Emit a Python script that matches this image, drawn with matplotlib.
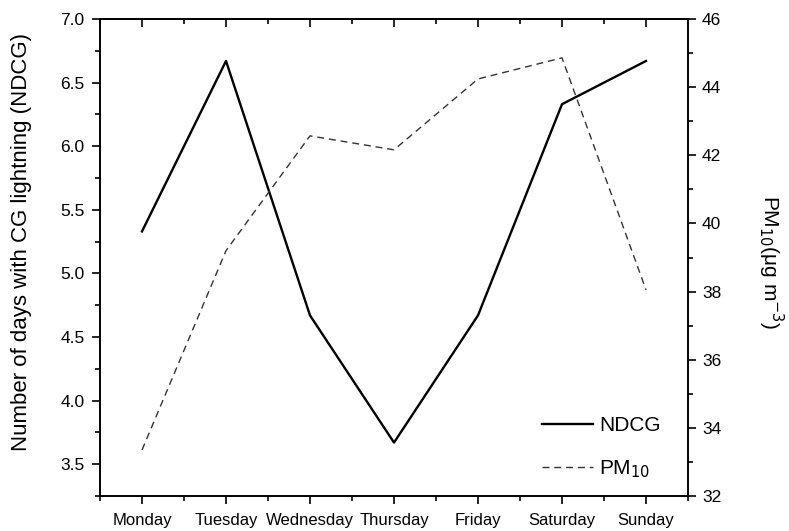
import matplotlib
matplotlib.use("Agg")
import matplotlib.pyplot as plt
from matplotlib.ticker import MultipleLocator

days = ["Monday", "Tuesday", "Wednesday", "Thursday", "Friday", "Saturday", "Sunday"]
ndcg = [5.33, 6.67, 4.67, 3.67, 4.67, 6.33, 6.67]
pm10 = [33.35, 39.2, 42.57, 42.16, 44.24, 44.86, 38.05]
left_ticks = [3.5, 4.0, 4.5, 5.0, 5.5, 6.0, 6.5, 7.0]

plt.rcParams['font.family'] = ['Liberation Sans', 'DejaVu Sans']

fig = plt.figure(figsize=(7.89, 5.31), dpi=100)
ax = fig.add_axes([100/789, 1-496/531, 588/789, 477/531])
ax2 = ax.twinx()

x = list(range(len(days)))
l1, = ax.plot(x, ndcg, color='black', lw=1.7, label='NDCG')
l2, = ax2.plot(x, pm10, color='#333333', lw=1.0, linestyle=(0, (5, 3.5)), label='PM$_{10}$')

ax.set_xlim(-0.5, 6.5)
ax.set_ylim(3.25, 7.0)
ax2.set_ylim(32, 46)

ax.set_xticks(x)
ax.set_xticklabels(days, fontsize=12)
ax.xaxis.set_minor_locator(MultipleLocator(0.5))
ax.set_yticks(left_ticks)
ax.set_yticklabels([f"{v:.1f}" for v in left_ticks], fontsize=12.5)
ax.yaxis.set_minor_locator(MultipleLocator(0.25))
ax2.yaxis.set_major_locator(MultipleLocator(2))
ax2.yaxis.set_minor_locator(MultipleLocator(1))
ax2.tick_params(axis='y', labelsize=12.5)

ax.tick_params(axis='x', which='major', direction='out', length=6, width=1.2, pad=6)
ax.tick_params(axis='x', which='minor', direction='out', length=3.5, width=1.2)
ax.tick_params(axis='y', which='major', direction='out', length=6, width=1.2, pad=5)
ax.tick_params(axis='y', which='minor', direction='out', length=3.5, width=1.2)
ax2.tick_params(axis='y', which='major', direction='out', length=6, width=1.2, pad=4)
ax2.tick_params(axis='y', which='minor', direction='out', length=3.5, width=1.2)

# top mirrored ticks pointing into the plot
top = ax.secondary_xaxis('top')
top.set_xticks(x)
top.xaxis.set_minor_locator(MultipleLocator(0.5))
top.tick_params(axis='x', which='major', direction='in', length=6, width=1.2, labeltop=False)
top.tick_params(axis='x', which='minor', direction='in', length=3.5, width=1.2)
top.set_xticklabels([])
top.spines['top'].set_linewidth(1.2)

for a in (ax, ax2):
    for s in a.spines.values():
        s.set_linewidth(1.2)

ax.set_ylabel("Number of days with CG lightning (NDCG)", fontsize=16, va='center')
ax.yaxis.set_label_coords(-0.134, 0.532)
ax2.set_ylabel("PM$_{10}$(μg m$^{-3}$)", fontsize=15, rotation=-90, va='center')
ax2.yaxis.set_label_coords(1.141, 0.49)

leg = ax.legend(handles=[l1, l2], loc='lower right', bbox_to_anchor=(0.985, -0.005),
                frameon=False, fontsize=15, handlelength=2.45, handletextpad=0.3,
                labelspacing=1.1)

fig.savefig("out.png", dpi=100)
